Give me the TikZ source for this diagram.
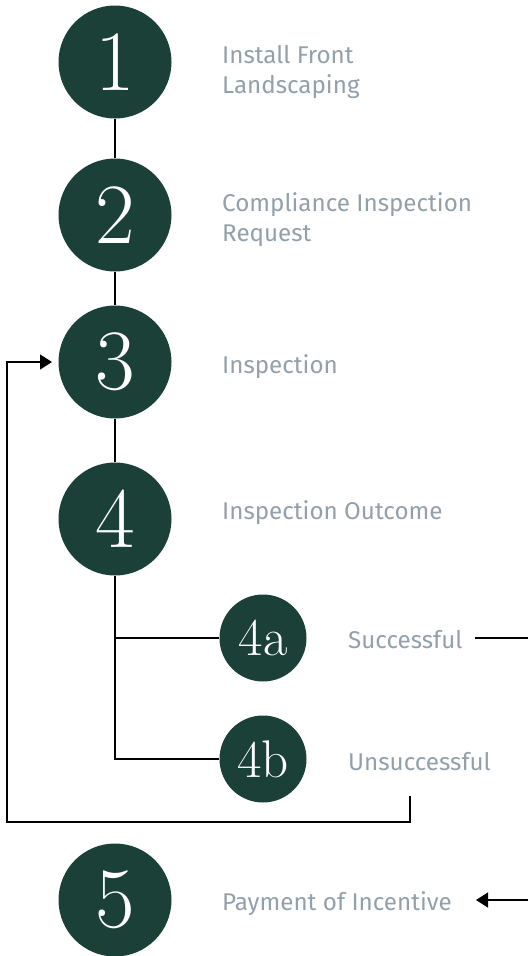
\documentclass[tikz,border=0pt]{standalone}
\usepackage{fontspec}
\newfontfamily\labelfont{Fira Sans}
\usetikzlibrary{arrows.meta}
\definecolor{stepgreen}{RGB}{26,64,56}
\definecolor{labelgrey}{RGB}{145,160,170}
\tikzset{
  bigstep/.style={circle, fill=stepgreen, minimum size=113pt, inner sep=0pt, text=white, font=\fontsize{86}{86}\selectfont},
  smallstep/.style={circle, fill=stepgreen, minimum size=87pt, inner sep=0pt, text=white, font=\fontsize{53}{53}\selectfont},
  lbl/.style={anchor=base west, inner sep=0pt, text=labelgrey, font=\labelfont\fontsize{24.2}{30}\selectfont, align=left},
  link/.style={draw=black, line width=1.3pt},
  arr/.style={link, -{Triangle[length=12pt, width=15pt]}}
}
\begin{document}
\begin{tikzpicture}[x=1pt,y=-1pt]
\useasboundingbox (0,0) rectangle (528,956);
% step circles
\node[bigstep] (n1) at (115,62) {1};
\node[bigstep] (n2) at (115,215) {2};
\node[bigstep] (n3) at (115,362) {3};
\node[bigstep] (n4) at (115,519) {4};
\node[smallstep] (n4a) at (263,638) {4a};
\node[smallstep] (n4b) at (263,759) {4b};
\node[bigstep] (n5) at (115,900) {5};
% labels
\node[lbl] (t1a) at (222,63) {Install Front};
\node[lbl] (t1b) at (222,93) {Landscaping};
\node[lbl] (t2a) at (222,211) {Compliance Inspection};
\node[lbl] (t2b) at (222,241) {Request};
\node[lbl] (t3) at (222,373) {Inspection};
\node[lbl] (t4) at (222,519) {Inspection Outcome};
\node[lbl] (t4a) at (348,648) {Successful};
\node[lbl] (t4b) at (348,770) {Unsuccessful};
\node[lbl] (t5) at (222,910) {Payment of Incentive};
% connectors
\draw[link] (n1) -- (n2);
\draw[link] (n2) -- (n3);
\draw[link] (n3) -- (n4);
\draw[link] (n4.south) |- (n4b.west);
\coordinate (br) at (115,638);
\draw[link] (br) -- (n4a.west);
% feedback loop
\coordinate (ua) at (410,796);
\coordinate (ub) at (410,822);
\coordinate (uc) at (7,822);
\coordinate (ud) at (52,362);
\draw[arr] (ua) -- (ub) -- (uc) |- (ud);
% successful -> payment
\coordinate (sa) at (475,638);
\coordinate (sb) at (528,638);
\draw[link] (sa) -- (sb);
\coordinate (pa) at (476,900);
\coordinate (pb) at (528,900);
\draw[arr] (pb) -- (pa);
\end{tikzpicture}
\end{document}
